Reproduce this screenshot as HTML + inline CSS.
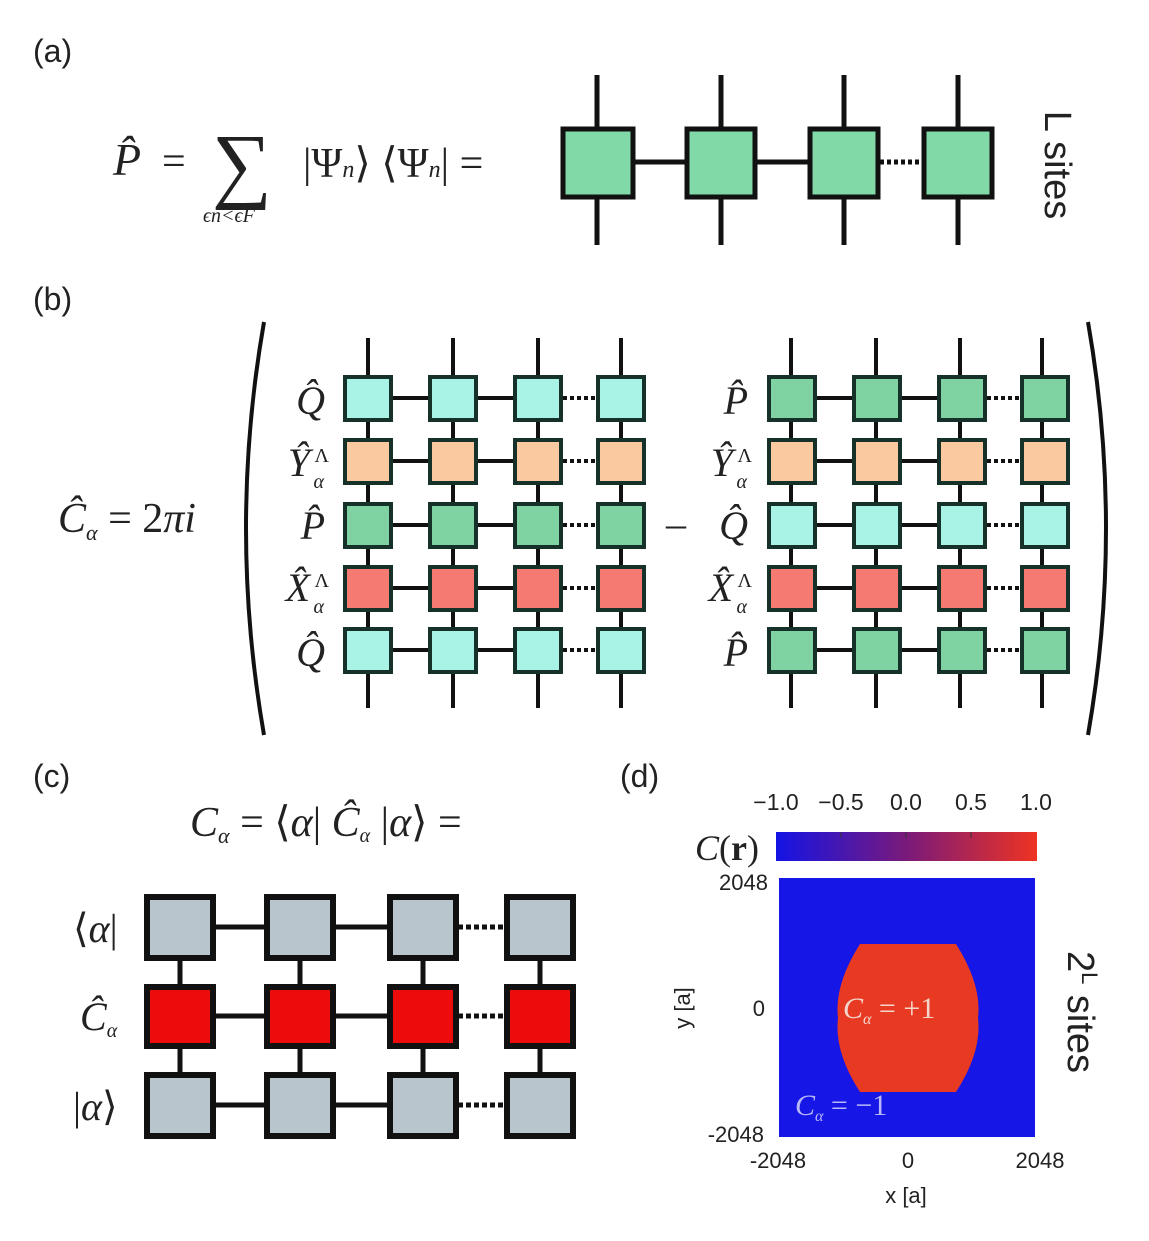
<!DOCTYPE html>
<html><head><meta charset="utf-8"><style>
html,body{margin:0;padding:0;background:#fff;}
svg{display:block;}
.m{font-family:"Liberation Serif","DejaVu Serif",serif;font-style:italic;fill:#222;}
.r{font-family:"Liberation Serif","DejaVu Serif",serif;fill:#222;}
.s{font-family:"Liberation Sans","DejaVu Sans",sans-serif;fill:#222;}
</style></head><body>
<svg width="1149" height="1241" viewBox="0 0 1149 1241" xmlns="http://www.w3.org/2000/svg">
<defs>
<linearGradient id="cb" x1="0" x2="1" y1="0" y2="0">
<stop offset="0" stop-color="#1414e6"/><stop offset="0.5" stop-color="#7a1a7a"/><stop offset="1" stop-color="#ee3322"/>
</linearGradient>
</defs>

<!-- (a) -->
<text x="33" y="62" class="s" font-size="32">(a)</text>
<text x="113" y="175" class="m" font-size="46">P̂</text>
<text x="162" y="175" class="r" font-size="42">=</text>
<text x="212" y="192" class="r" font-size="84">∑</text>
<text x="203" y="222" class="m" font-size="20">ϵn&lt;ϵF</text>
<text x="303" y="177" class="r" font-size="42">|Ψ<tspan font-size="24" font-style="italic">n</tspan>⟩ ⟨Ψ<tspan font-size="24" font-style="italic">n</tspan>| =</text>
<g stroke="#111" stroke-width="5">
<line x1="597" y1="75" x2="597" y2="245"/><line x1="721" y1="75" x2="721" y2="245"/>
<line x1="844" y1="75" x2="844" y2="245"/><line x1="958" y1="75" x2="958" y2="245"/>
<line x1="633" y1="162" x2="808" y2="162"/>
<line x1="880" y1="162" x2="922" y2="162" stroke-dasharray="4,3"/>
</g>
<g fill="#82d9a8" stroke="#111" stroke-width="5">
<rect x="563" y="129" width="70" height="68"/><rect x="687" y="129" width="68" height="68"/>
<rect x="810" y="129" width="68" height="68"/><rect x="924" y="129" width="68" height="68"/>
</g>
<text transform="translate(1045,165) rotate(90)" class="s" font-size="38" text-anchor="middle">L sites</text>

<!-- (b) -->
<text x="33" y="310" class="s" font-size="32">(b)</text>
<text x="58" y="532" class="m" font-size="42">Ĉ<tspan font-size="22" dy="8">α</tspan><tspan dy="-8" font-style="normal"> = 2</tspan>πi</text>
<path d="M264,322 Q228,528 264,735" fill="none" stroke="#111" stroke-width="4"/>
<path d="M1088,322 Q1124,528 1088,735" fill="none" stroke="#111" stroke-width="4"/>
<text x="666" y="537" class="r" font-size="40">–</text>

<g class="m" font-size="40" text-anchor="end">
<text x="325" y="414">Q̂</text>
<text x="310" y="476">Ŷ</text><text x="329" y="462" font-size="20" font-style="normal">Λ</text><text x="324" y="488" font-size="20">α</text>
<text x="325" y="539">P̂</text>
<text x="310" y="601">X̂</text><text x="329" y="587" font-size="20" font-style="normal">Λ</text><text x="324" y="613" font-size="20">α</text>
<text x="325" y="666">Q̂</text>
<text x="748" y="414">P̂</text>
<text x="733" y="476">Ŷ</text><text x="752" y="462" font-size="20" font-style="normal">Λ</text><text x="747" y="488" font-size="20">α</text>
<text x="748" y="539">Q̂</text>
<text x="733" y="601">X̂</text><text x="752" y="587" font-size="20" font-style="normal">Λ</text><text x="747" y="613" font-size="20">α</text>
<text x="748" y="666">P̂</text>
</g>

<g stroke="#111" stroke-width="4">
<line x1="368" y1="338" x2="368" y2="708"/><line x1="453" y1="338" x2="453" y2="708"/>
<line x1="538" y1="338" x2="538" y2="708"/><line x1="621" y1="338" x2="621" y2="708"/>
<line x1="791" y1="338" x2="791" y2="708"/><line x1="876" y1="338" x2="876" y2="708"/>
<line x1="960" y1="338" x2="960" y2="708"/><line x1="1042" y1="338" x2="1042" y2="708"/>
<g id="hl">
<line x1="392" y1="398" x2="513" y2="398"/><line x1="392" y1="461" x2="513" y2="461"/>
<line x1="392" y1="525" x2="513" y2="525"/><line x1="392" y1="588" x2="513" y2="588"/>
<line x1="392" y1="650" x2="513" y2="650"/>
<g stroke-dasharray="4,3">
<line x1="563" y1="398" x2="597" y2="398"/><line x1="563" y1="461" x2="597" y2="461"/>
<line x1="563" y1="525" x2="597" y2="525"/><line x1="563" y1="588" x2="597" y2="588"/>
<line x1="563" y1="650" x2="597" y2="650"/>
</g>
</g>
<use href="#hl" x="424"/>
</g>
<g stroke="#16302a" stroke-width="4">
<g>
<rect x="345" y="377" width="46" height="43" fill="#a8f2e6"/><rect x="430" y="377" width="46" height="43" fill="#a8f2e6"/><rect x="515" y="377" width="46" height="43" fill="#a8f2e6"/><rect x="598" y="377" width="46" height="43" fill="#a8f2e6"/>
<rect x="345" y="440" width="46" height="43" fill="#fbc9a0"/><rect x="430" y="440" width="46" height="43" fill="#fbc9a0"/><rect x="515" y="440" width="46" height="43" fill="#fbc9a0"/><rect x="598" y="440" width="46" height="43" fill="#fbc9a0"/>
<rect x="345" y="504" width="46" height="43" fill="#7fd3a2"/><rect x="430" y="504" width="46" height="43" fill="#7fd3a2"/><rect x="515" y="504" width="46" height="43" fill="#7fd3a2"/><rect x="598" y="504" width="46" height="43" fill="#7fd3a2"/>
<rect x="345" y="567" width="46" height="43" fill="#f47a72"/><rect x="430" y="567" width="46" height="43" fill="#f47a72"/><rect x="515" y="567" width="46" height="43" fill="#f47a72"/><rect x="598" y="567" width="46" height="43" fill="#f47a72"/>
<rect x="345" y="629" width="46" height="43" fill="#a8f2e6"/><rect x="430" y="629" width="46" height="43" fill="#a8f2e6"/><rect x="515" y="629" width="46" height="43" fill="#a8f2e6"/><rect x="598" y="629" width="46" height="43" fill="#a8f2e6"/>
</g>
<g transform="translate(424,0)">
<rect x="345" y="377" width="46" height="43" fill="#7fd3a2"/><rect x="430" y="377" width="46" height="43" fill="#7fd3a2"/><rect x="515" y="377" width="46" height="43" fill="#7fd3a2"/><rect x="598" y="377" width="46" height="43" fill="#7fd3a2"/>
<rect x="345" y="440" width="46" height="43" fill="#fbc9a0"/><rect x="430" y="440" width="46" height="43" fill="#fbc9a0"/><rect x="515" y="440" width="46" height="43" fill="#fbc9a0"/><rect x="598" y="440" width="46" height="43" fill="#fbc9a0"/>
<rect x="345" y="504" width="46" height="43" fill="#a8f2e6"/><rect x="430" y="504" width="46" height="43" fill="#a8f2e6"/><rect x="515" y="504" width="46" height="43" fill="#a8f2e6"/><rect x="598" y="504" width="46" height="43" fill="#a8f2e6"/>
<rect x="345" y="567" width="46" height="43" fill="#f47a72"/><rect x="430" y="567" width="46" height="43" fill="#f47a72"/><rect x="515" y="567" width="46" height="43" fill="#f47a72"/><rect x="598" y="567" width="46" height="43" fill="#f47a72"/>
<rect x="345" y="629" width="46" height="43" fill="#7fd3a2"/><rect x="430" y="629" width="46" height="43" fill="#7fd3a2"/><rect x="515" y="629" width="46" height="43" fill="#7fd3a2"/><rect x="598" y="629" width="46" height="43" fill="#7fd3a2"/>
</g>
</g>

<!-- (c) -->
<text x="33" y="787" class="s" font-size="32">(c)</text>
<text x="190" y="836" class="m" font-size="42">C<tspan font-size="22" dy="7">α</tspan><tspan dy="-7" font-style="normal"> = ⟨</tspan>α<tspan font-style="normal">| </tspan>Ĉ<tspan font-size="20" dy="6">α</tspan><tspan dy="-6" font-style="normal"> |</tspan>α<tspan font-style="normal">⟩ =</tspan></text>
<text x="73" y="942" class="m" font-size="40"><tspan font-style="normal">⟨</tspan>α<tspan font-style="normal">|</tspan></text>
<text x="80" y="1030" class="m" font-size="40">Ĉ<tspan font-size="20" dy="7">α</tspan></text>
<text x="73" y="1120" class="m" font-size="40"><tspan font-style="normal">|</tspan>α<tspan font-style="normal">⟩</tspan></text>
<g stroke="#111" stroke-width="5">
<line x1="180" y1="895" x2="180" y2="1138"/><line x1="300" y1="895" x2="300" y2="1138"/>
<line x1="423" y1="895" x2="423" y2="1138"/><line x1="540" y1="895" x2="540" y2="1138"/>
<line x1="215" y1="927" x2="388" y2="927"/><line x1="215" y1="1016" x2="388" y2="1016"/><line x1="215" y1="1105" x2="388" y2="1105"/>
<g stroke-dasharray="5,3"><line x1="458" y1="927" x2="505" y2="927"/><line x1="458" y1="1016" x2="505" y2="1016"/><line x1="458" y1="1105" x2="505" y2="1105"/></g>
</g>
<g stroke="#111" stroke-width="6">
<rect x="147" y="897" width="66" height="61" fill="#b9c5cd"/><rect x="267" y="897" width="66" height="61" fill="#b9c5cd"/><rect x="390" y="897" width="66" height="61" fill="#b9c5cd"/><rect x="507" y="897" width="66" height="61" fill="#b9c5cd"/>
<rect x="147" y="987" width="66" height="59" fill="#ee0b0b"/><rect x="267" y="987" width="66" height="59" fill="#ee0b0b"/><rect x="390" y="987" width="66" height="59" fill="#ee0b0b"/><rect x="507" y="987" width="66" height="59" fill="#ee0b0b"/>
<rect x="147" y="1075" width="66" height="61" fill="#b9c5cd"/><rect x="267" y="1075" width="66" height="61" fill="#b9c5cd"/><rect x="390" y="1075" width="66" height="61" fill="#b9c5cd"/><rect x="507" y="1075" width="66" height="61" fill="#b9c5cd"/>
</g>

<!-- (d) -->
<text x="620" y="787" class="s" font-size="32">(d)</text>
<g class="s" font-size="23" text-anchor="middle">
<text x="776" y="810">−1.0</text><text x="841" y="810">−0.5</text><text x="906" y="810">0.0</text><text x="971" y="810">0.5</text><text x="1036" y="810">1.0</text>
</g>
<rect x="776" y="832" width="261" height="29" fill="url(#cb)"/>
<g stroke="#333" stroke-width="1"><line x1="841" y1="832" x2="841" y2="838"/><line x1="906" y1="832" x2="906" y2="838"/><line x1="971" y1="832" x2="971" y2="838"/></g>
<text x="695" y="860" class="m" font-size="36">C<tspan font-style="normal">(</tspan><tspan font-weight="bold" font-style="normal">r</tspan><tspan font-style="normal">)</tspan></text>
<rect x="779" y="878" width="256" height="259" fill="#1616e6"/>
<path d="M860,944 L956,944 Q982,985 978,1018 Q982,1052 956,1092 L860,1092 Q834,1052 838,1018 Q834,985 860,944 Z" fill="#e83a22"/>
<g class="s" font-size="22" text-anchor="end">
<text x="768" y="890">2048</text><text x="765" y="1016">0</text><text x="764" y="1142">-2048</text>
</g>
<g class="s" font-size="22" text-anchor="middle">
<text x="778" y="1168">-2048</text><text x="908" y="1168">0</text><text x="1040" y="1168">2048</text>
<text x="906" y="1203">x [a]</text>
</g>
<text transform="translate(690,1008) rotate(-90)" class="s" font-size="22" text-anchor="middle">y [a]</text>
<text x="843" y="1018" class="m" font-size="30" style="fill:#f3d6cc">C<tspan font-size="16" dy="6">α</tspan><tspan dy="-6" font-style="normal"> = +1</tspan></text>
<text x="795" y="1115" class="m" font-size="30" style="fill:#b8b8f8">C<tspan font-size="16" dy="6">α</tspan><tspan dy="-6" font-style="normal"> = −1</tspan></text>
<text transform="translate(1068,1012) rotate(90)" class="s" font-size="38" text-anchor="middle">2<tspan font-size="22" dy="-14">L</tspan><tspan dy="14"> sites</tspan></text>
</svg>
</body></html>
